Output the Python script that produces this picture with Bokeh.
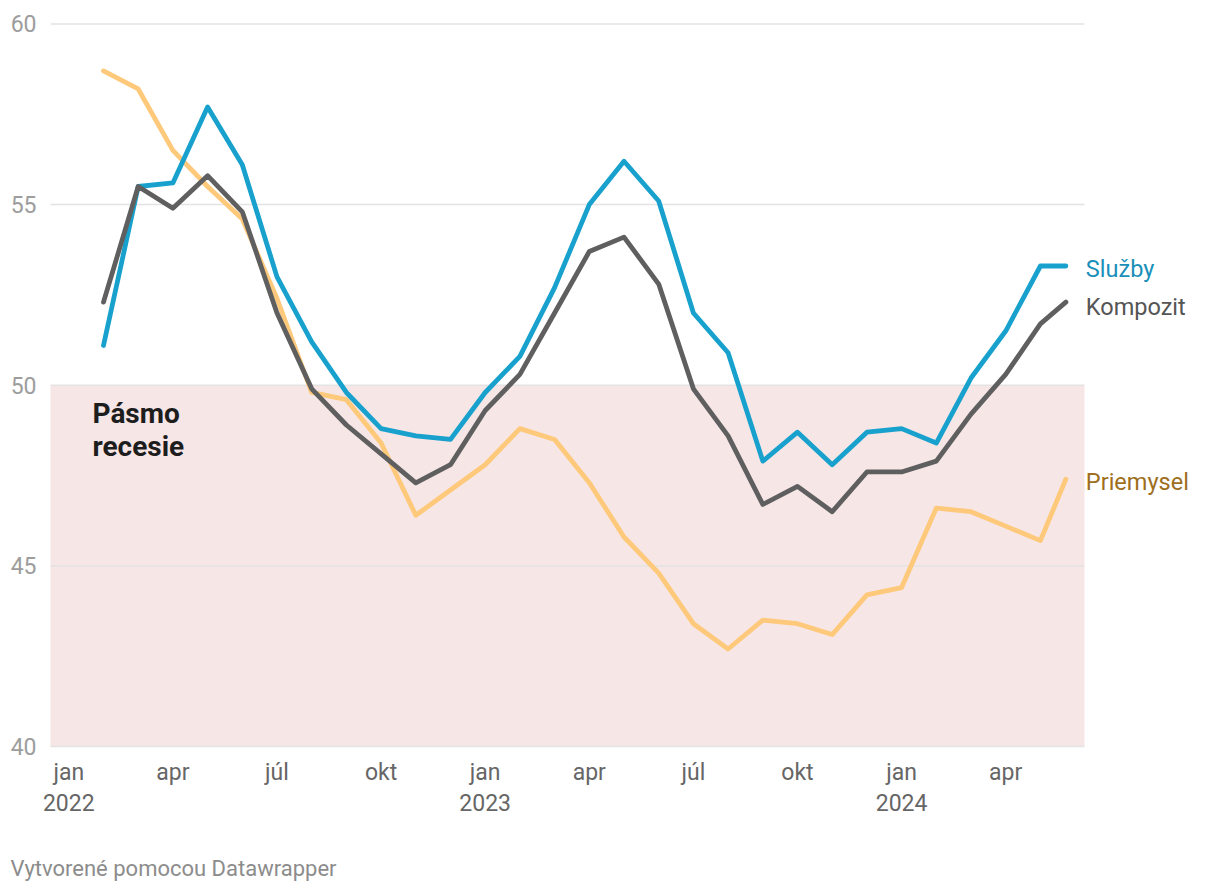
from bokeh.plotting import figure
from bokeh.models import FixedTicker, BoxAnnotation, Label, Range1d
from bokeh.embed import file_html
from bokeh.resources import INLINE

# ---- data ----
# last observation is the flash estimate (late May 2024)
dates = ["2022-02-01", "2022-03-01", "2022-04-01", "2022-05-01", "2022-06-01",
         "2022-07-01", "2022-08-01", "2022-09-01", "2022-10-01", "2022-11-01",
         "2022-12-01", "2023-01-01", "2023-02-01", "2023-03-01", "2023-04-01",
         "2023-05-01", "2023-06-01", "2023-07-01", "2023-08-01", "2023-09-01",
         "2023-10-01", "2023-11-01", "2023-12-01", "2024-01-01", "2024-02-01",
         "2024-03-01", "2024-04-01", "2024-05-01", "2024-05-23"]
sluzby = [51.1, 55.5, 55.6, 57.7, 56.1, 53.0, 51.2, 49.8, 48.8, 48.6, 48.5, 49.8,
          50.8, 52.7, 55.0, 56.2, 55.1, 52.0, 50.9, 47.9, 48.7, 47.8, 48.7, 48.8,
          48.4, 50.2, 51.5, 53.3, 53.3]
kompozit = [52.3, 55.5, 54.9, 55.8, 54.8, 52.0, 49.9, 48.9, 48.1, 47.3, 47.8, 49.3,
            50.3, 52.0, 53.7, 54.1, 52.8, 49.9, 48.6, 46.7, 47.2, 46.5, 47.6, 47.6,
            47.9, 49.2, 50.3, 51.7, 52.3]
priemysel = [58.7, 58.2, 56.5, 55.5, 54.6, 52.4, 49.8, 49.6, 48.4, 46.4, 47.1, 47.8,
             48.8, 48.5, 47.3, 45.8, 44.8, 43.4, 42.7, 43.5, 43.4, 43.1, 44.2, 44.4,
             46.6, 46.5, 46.1, 45.7, 47.4]
tick_dates = ["2022-01-01", "2022-04-01", "2022-07-01", "2022-10-01", "2023-01-01",
              "2023-04-01", "2023-07-01", "2023-10-01", "2024-01-01", "2024-04-01"]
tick_labels = ["jan\n2022", "apr", "júl", "okt", "jan\n2023", "apr", "júl", "okt",
               "jan\n2024", "apr"]
y_ticks = [40, 45, 50, 55, 60]
recession_low, recession_high = 40, 50


def month_index(d):
    y, mo, day = (int(v) for v in d.split("-"))
    return (y - 2022) * 12 + mo - 1 + (day - 1) / 30.0


xs = [month_index(d) for d in dates]
tick_x = [month_index(d) for d in tick_dates]

FONT = "Roboto"
X_START = -0.527      # left edge of the chart area
X_AREA_END = 29.27    # right edge of grid / band

# the frame covers the whole canvas; axes are pinned inside it
p = figure(width=1220, height=892, output_backend="svg", toolbar_location=None,
           x_range=Range1d(-1.968, 33.19), y_range=Range1d(35.961, 60.648),
           min_border_left=0, min_border_right=0, min_border_top=0,
           min_border_bottom=0)
p.outline_line_color = None
p.background_fill_color = "white"
p.border_fill_color = "white"

band = BoxAnnotation(bottom=recession_low, top=recession_high, left=X_START,
                     right=X_AREA_END, fill_color="#f6e6e6", fill_alpha=1.0,
                     line_color=None, level="image")
p.add_layout(band)

# grid lines limited to chart area
p.xgrid.visible = False
p.ygrid.visible = False
p.segment(x0=[X_START] * len(y_ticks), x1=[X_AREA_END] * len(y_ticks),
          y0=y_ticks, y1=y_ticks, line_color="#e3e3e3", line_width=1.5)

# y axis
p.yaxis.fixed_location = X_START
p.yaxis.ticker = FixedTicker(ticks=y_ticks)
p.yaxis.axis_line_color = None
p.yaxis.major_tick_line_color = None
p.yaxis.minor_tick_line_color = None
p.yaxis.major_label_text_font = FONT
p.yaxis.major_label_text_font_size = "23px"
p.yaxis.major_label_text_color = "#9d9d9d"
p.yaxis.major_label_standoff = 8

# x axis
p.xaxis.fixed_location = recession_low
p.xaxis.ticker = FixedTicker(ticks=tick_x)
p.xaxis.major_label_overrides = {t: l for t, l in zip(tick_x, tick_labels)}
p.xaxis.axis_line_color = None
p.xaxis.major_tick_line_color = None
p.xaxis.minor_tick_line_color = None
p.xaxis.major_label_text_font = FONT
p.xaxis.major_label_text_font_size = "23px"
p.xaxis.major_label_text_color = "#666666"
p.xaxis.major_label_standoff = 6
p.xaxis.major_label_text_line_height = 1.17

lw = 4.8
p.line(xs, priemysel, line_color="#fec97a", line_width=lw, line_join="round", line_cap="round")
p.line(xs, sluzby, line_color="#18a1cd", line_width=lw, line_join="round", line_cap="round")
p.line(xs, kompozit, line_color="#5f5f5f", line_width=lw, line_join="round", line_cap="round")

label_specs = [("Služby", sluzby[-1], "#1a8fba", -3),
               ("Kompozit", kompozit[-1], "#555555", -5),
               ("Priemysel", priemysel[-1], "#9e6f1c", -3)]
for txt, yv, col, dy in label_specs:
    p.add_layout(Label(x=xs[-1], y=yv, text=txt, x_offset=20, y_offset=dy,
                       text_font=FONT, text_font_size="23.5px", text_color=col,
                       text_align="left", text_baseline="middle"))

p.add_layout(Label(x=1, y=recession_high, text="Pásmo\nrecesie", x_offset=-11, y_offset=-12,
                   text_font=FONT, text_font_size="28px", text_font_style="bold",
                   text_color="#1d1d1d", text_align="left", text_baseline="top",
                   text_line_height=1.0))

p.add_layout(Label(x=10, y=24, x_units="screen", y_units="screen",
                   text="Vytvorené pomocou Datawrapper", text_font=FONT,
                   text_font_size="22px", text_color="#8c8c8c",
                   text_align="left", text_baseline="middle"))

open("out.html", "w").write(file_html(p, INLINE))
